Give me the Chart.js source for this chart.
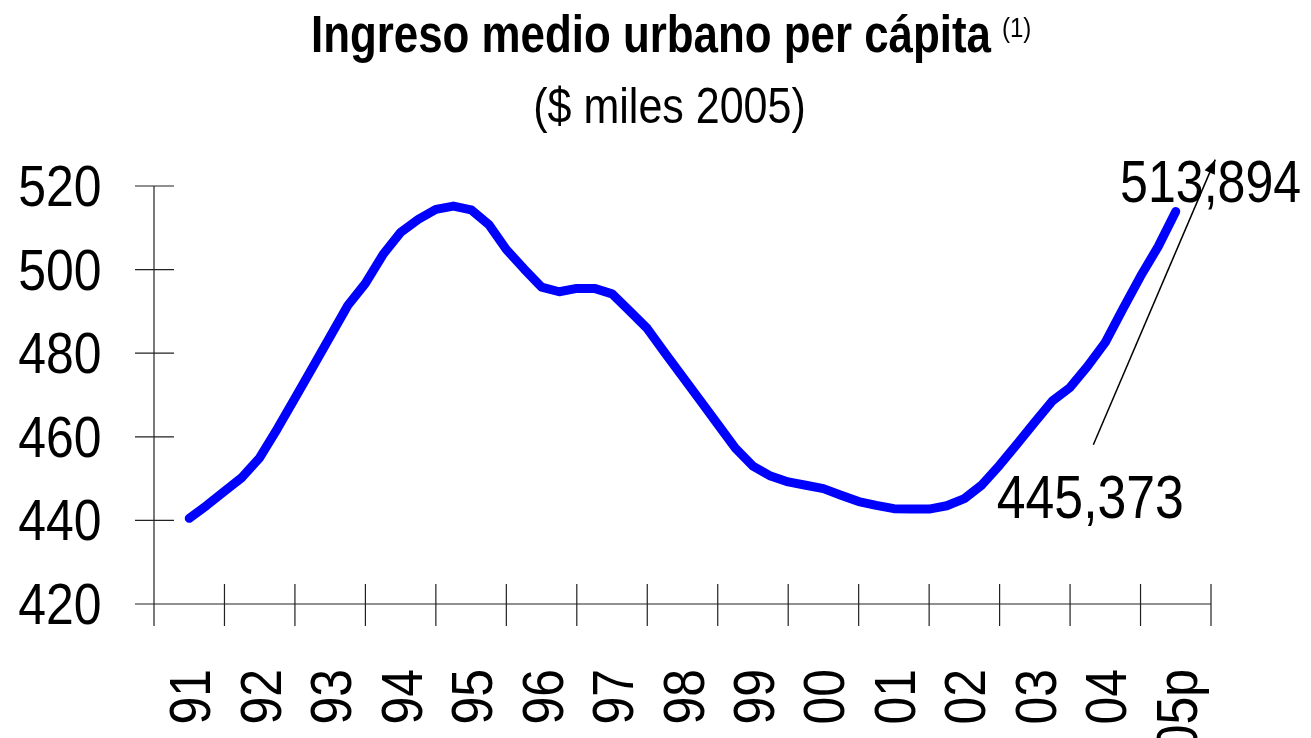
<!DOCTYPE html>
<html>
<head>
<meta charset="utf-8">
<script src="https://cdn.jsdelivr.net/npm/chart.js@4/dist/chart.umd.min.js"></script>
<style>
  html, body { margin:0; padding:0; background:#fff; }
  #wrap { width:1311px; height:738px; }
</style>
</head>
<body>
<div id="wrap"><canvas id="chart" width="1311" height="738"></canvas></div>
<script>
// data
const years = ["91","92","93","94","95","96","97","98","99","00","01","02","03","04","05p"];
// quarterly series, first point mid-91, last point mid-05
const income = [
  440.5, 443.6, 447.0, 450.3, 455.0, 461.9, 469.2, 476.6, 484.0, 491.4,
  496.7, 503.6, 508.9, 512.0, 514.4, 515.2, 514.3, 510.8, 504.8, 500.2,
  495.8, 494.7, 495.5, 495.5, 494.2, 490.1, 485.9, 480.1, 474.4, 468.7,
  463.0, 457.3, 453.0, 450.6, 449.2, 448.4, 447.6, 446.0, 444.5, 443.6,
  442.8, 442.7, 442.7, 443.5, 445.2, 448.5, 453.2, 458.3, 463.5, 468.6,
  471.8, 476.9, 482.6, 490.6, 498.4, 505.5, 513.9
];
const yMin = 420, yMax = 520, yStep = 20;
const titleMain = "Ingreso medio urbano per cápita";
const titleNote = "(1)";
const subtitle = "($ miles 2005)";
const noteHigh = "513,894";
const noteLow = "445,373";

// no narrow font installed, so text gets squeezed sideways
const FONT = '"Liberation Sans", Arial, sans-serif';
const SX = 0.86;

const points = income.map((v,i)=>({ x: 0.5 + i*0.25, y: v }));

function narrowText(c, txt, x, y, align, sx){
  c.save();
  c.translate(x, y);
  c.scale(sx, 1);
  c.textAlign = align;
  c.fillText(txt, 0, 0);
  c.restore();
}

// title + subtitle
const titlePlugin = {
  id: "titleText",
  afterDraw(chart){
    const c = chart.ctx;
    c.save();
    c.fillStyle = "#000";
    c.textBaseline = "alphabetic";
    c.font = "bold 51px " + FONT;
    const w1 = c.measureText(titleMain).width * SX;
    narrowText(c, titleMain, 311, 52, "left", SX);
    c.font = "28px " + FONT;
    narrowText(c, titleNote, 311 + w1 + 11, 37, "left", SX);
    c.font = "50px " + FONT;
    narrowText(c, subtitle, 669.5, 123, "center", SX);
    c.restore();
  }
};

// axis lines, crossing tick marks and tick labels
const axesPlugin = {
  id: "axesCross",
  afterDraw(chart){
    const c = chart.ctx;
    const xs = chart.scales.xq, ys = chart.scales.y, xc = chart.scales.x;
    const left = xs.getPixelForValue(0), right = xs.getPixelForValue(years.length);
    const top = ys.getPixelForValue(yMax), bottom = ys.getPixelForValue(yMin);
    c.save();
    c.strokeStyle = "#222";
    c.lineWidth = 1.2;
    c.beginPath();
    c.moveTo(left, top); c.lineTo(left, bottom + 19);
    c.moveTo(left, bottom); c.lineTo(right, bottom);
    ys.ticks.forEach(t=>{
      const y = ys.getPixelForValue(t.value);
      c.moveTo(left - 19, y); c.lineTo(left + 20, y);
    });
    for(let k=0; k<=years.length; k++){
      const x = xs.getPixelForValue(k);
      c.moveTo(x, bottom - 20); c.lineTo(x, bottom + 22);
    }
    c.stroke();

    c.fillStyle = "#000";
    c.font = "58px " + FONT;
    c.textBaseline = "alphabetic";
    ys.ticks.forEach(t=>{
      const y = ys.getPixelForValue(t.value);
      narrowText(c, String(t.value), left - 52.5, y + 20, "right", SX);
    });
    years.forEach((lab,i)=>{
      const x = xc.getPixelForValue(i);
      c.save();
      c.translate(x + 21, bottom + 65);
      c.rotate(-Math.PI/2);
      c.scale(SX, 1);
      c.textAlign = "right";
      c.fillText(lab, 0, 0);
      c.restore();
    });
    c.restore();
  }
};

// value notes and arrow
const notesPlugin = {
  id: "notes",
  afterDraw(chart){
    const c = chart.ctx;
    const xs = chart.scales.xq, ys = chart.scales.y;
    c.save();
    c.fillStyle = "#000";
    c.font = "60px " + FONT;
    c.textBaseline = "alphabetic";
    narrowText(c, noteHigh, xs.getPixelForValue(13.71), ys.getPixelForValue(516.2), "left", 0.835);
    c.font = "62px " + FONT;
    narrowText(c, noteLow, xs.getPixelForValue(11.96), ys.getPixelForValue(440.6), "left", 0.835);
    // arrow
    const x0 = xs.getPixelForValue(13.33), y0 = ys.getPixelForValue(458.1);
    const x1 = xs.getPixelForValue(15.06), y1 = ys.getPixelForValue(526.3);
    c.strokeStyle = "#000";
    c.lineWidth = 1.5;
    c.beginPath(); c.moveTo(x0,y0); c.lineTo(x1,y1); c.stroke();
    const a = Math.atan2(y1-y0, x1-x0);
    c.beginPath();
    c.moveTo(x1,y1);
    c.lineTo(x1 - 15*Math.cos(a-0.38), y1 - 15*Math.sin(a-0.38));
    c.lineTo(x1 - 15*Math.cos(a+0.38), y1 - 15*Math.sin(a+0.38));
    c.closePath(); c.fill();
    c.restore();
  }
};

new Chart(document.getElementById("chart"), {
  type: "line",
  data: {
    labels: years,
    datasets: [{
      data: points,
      xAxisID: "xq",
      borderColor: "#0000ff",
      borderWidth: 9,
      borderCapStyle: "round",
      borderJoinStyle: "round",
      pointRadius: 0,
      tension: 0,
      fill: false
    }]
  },
  options: {
    responsive: false,
    animation: false,
    devicePixelRatio: 1,
    layout: { padding: { top: 186, right: 100, left: 0, bottom: 0 } },
    plugins: { legend: { display: false }, tooltip: { enabled: false }, title: { display: false } },
    scales: {
      x: {
        type: "category",
        offset: true,
        grid: { display: false, drawTicks: false },
        border: { display: false },
        ticks: { display: false },
        afterFit(s){ s.height = 134; }
      },
      xq: {
        type: "linear",
        min: 0, max: years.length,
        display: false
      },
      y: {
        min: yMin, max: yMax,
        grid: { display: false, drawTicks: false },
        border: { display: false },
        ticks: { display: false, stepSize: yStep },
        afterFit(s){ s.width = 154; }
      }
    }
  },
  plugins: [titlePlugin, axesPlugin, notesPlugin]
});
</script>
</body>
</html>
